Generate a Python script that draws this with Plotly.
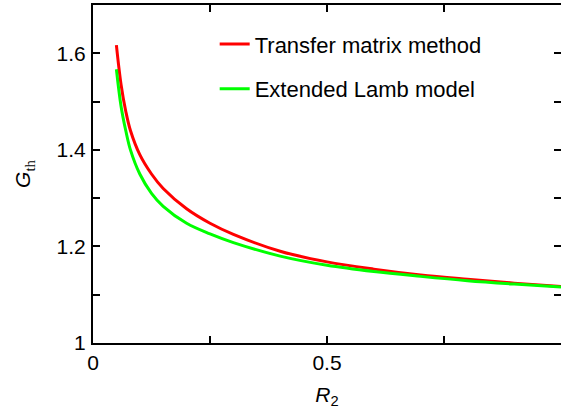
import plotly.graph_objects as go

# Reflectivity R2 values
r2 = [0.05, 0.06, 0.07, 0.08, 0.10, 0.125, 0.15, 0.20, 0.25, 0.30, 0.40, 0.50, 0.60, 0.70, 0.80, 0.90, 1.00]
# Threshold gain, transfer matrix method
g_tmm = [1.617, 1.535, 1.48, 1.44, 1.39, 1.35, 1.32, 1.278, 1.248, 1.225, 1.19, 1.168, 1.153, 1.141, 1.132, 1.124, 1.117]
# Threshold gain, extended Lamb model
g_lamb = [1.567, 1.49, 1.44, 1.40, 1.35, 1.31, 1.283, 1.248, 1.226, 1.208, 1.18, 1.161, 1.148, 1.138, 1.129, 1.122, 1.116]

x_tickvals = [0, 0.25, 0.5, 0.75, 1]
x_ticktext = ["0", "", "0.5", "", "1"]
y_tickvals = [1, 1.1, 1.2, 1.3, 1.4, 1.5, 1.6]
y_ticktext = ["1", "", "1.2", "", "1.4", "", "1.6"]

FONT = "Liberation Sans, Arial, sans-serif"

fig = go.Figure()
fig.add_trace(go.Scatter(x=r2, y=g_tmm, mode="lines", name="Transfer matrix method",
                         line=dict(color="#ff0000", width=3, shape="spline"), legendgroup="a"))
fig.add_trace(go.Scatter(x=r2, y=g_lamb, mode="lines", name="Extended Lamb model",
                         line=dict(color="#00ff00", width=3, shape="spline"), legendgroup="b"))

axis_common = dict(showline=True, linecolor="black", linewidth=2, mirror="allticks",
                   ticks="inside", ticklen=7, tickwidth=2, tickcolor="black",
                   showgrid=False, zeroline=False, automargin=False,
                   tickfont=dict(family=FONT, size=21, color="black"))

fig.update_xaxes(range=[0, 1], tickmode="array", tickvals=x_tickvals, ticktext=x_ticktext,
                 title=dict(text="<i>R</i><sub>2</sub>", font=dict(family=FONT, size=21, color="black"),
                            standoff=14),
                 **axis_common)
fig.update_yaxes(range=[1, 1.7], tickmode="array", tickvals=y_tickvals, ticktext=y_ticktext,
                 ticklabelstandoff=1,
                 title=dict(text="<i>G</i><span style=\"font-family:'Liberation Serif'\"><sub>th</sub></span>",
                            font=dict(family=FONT, size=21, color="black"), standoff=20),
                 **axis_common)

fig.update_layout(
    width=561, height=412,
    margin=dict(l=93, r=0, t=5, b=69),
    plot_bgcolor="white", paper_bgcolor="white",
    font=dict(family=FONT, size=21, color="black"),
    legend=dict(x=0.26, y=0.946, xanchor="left", yanchor="top",
                bgcolor="rgba(0,0,0,0)", tracegroupgap=13, traceorder="grouped",
                font=dict(family=FONT, size=22, color="black")),
)

post = ("document.body.style.margin='0';document.body.style.overflow='hidden';"
        "var gd=document.getElementById('{plot_id}');"
        "Plotly.relayout(gd,{width:561,height:412});")

fig.write_html("out.html", config={"responsive": False, "displayModeBar": False}, post_script=post)
